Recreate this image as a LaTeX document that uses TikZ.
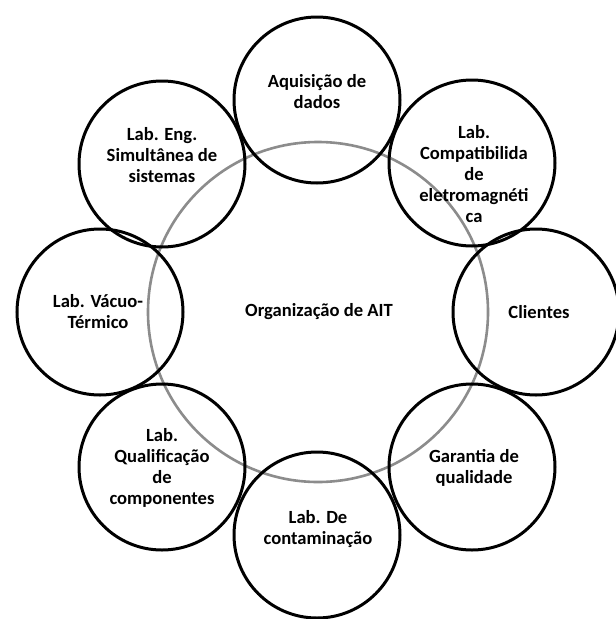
\documentclass[tikz,border=0pt]{standalone}
\usepackage{fontspec}
\setmainfont{Carlito}
\begin{document}
\begin{tikzpicture}[x=1pt,y=-1pt,
  member/.style={draw=black,line width=3pt,circle,minimum size=166pt,inner sep=0pt},
  core/.style={draw=black!45,line width=2.6pt,circle,minimum size=340pt,inner sep=0pt},
  label/.style={font=\bfseries\fontsize{18.6}{21}\selectfont,align=center,inner sep=0pt}]
  \useasboundingbox[fill=white] (0,0) rectangle (616,619);
  % central organisation circle
  \node[core] (org) at (318,312) {};
  \node[label] (orgtxt) at (319,312) {Organização de AIT};
  % surrounding units
  \node[member] (aq)  at (317,100) {};
  \node[member] (emc) at (472,163) {};
  \node[member] (cli) at (536,312) {};
  \node[member] (qa)  at (472,467) {};
  \node[member] (con) at (317,535) {};
  \node[member] (qc)  at (162,467) {};
  \node[member] (vt)  at (100,312) {};
  \node[member] (eng) at (162,164) {};
  % their labels
  \node[label] (aqt)  at (317,92)  {Aquisição de\\dados};
  \node[label] (emct) at (474,174) {Lab.\\Compatibilida\\de\\eletromagnéti\\ca};
  \node[label] (clit) at (539,312) {Clientes};
  \node[label] (qat)  at (474,468) {Garantia de\\qualidade};
  \node[label] (cont) at (318,529) {Lab. De\\contaminação};
  \node[label] (qct)  at (162,468) {Lab.\\Qualificação\\de\\componentes};
  \node[label] (vtt)  at (98,312) {Lab. Vácuo-\\Térmico};
  \node[label] (engt) at (162,155) {Lab. Eng.\\Simultânea de\\sistemas};
\end{tikzpicture}
\end{document}
